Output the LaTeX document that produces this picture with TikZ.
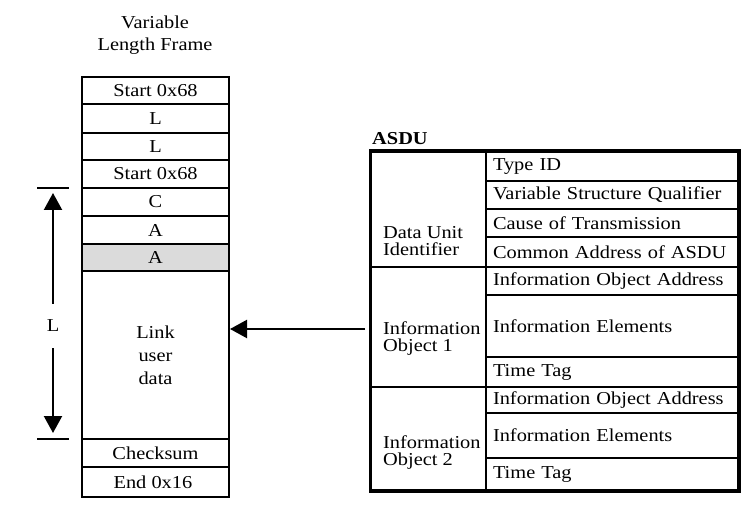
\documentclass[tikz,border=0pt]{standalone}
\usepackage{fontspec}
\setmainfont{Liberation Serif}[FakeStretch=1.12]
\usetikzlibrary{arrows.meta,positioning}
\definecolor{aRow}{gray}{0.86}

\begin{document}
\begin{tikzpicture}[x=1pt,y=-1pt,every node/.style={font=\fontsize{18.2}{17}\selectfont}]

      \useasboundingbox (0,0) rectangle (756,508);

      \tikzset{
        frameRow/.style={draw,line width=2pt,minimum width=147pt,inner sep=0pt,align=center},
        asduCell/.style={draw,line width=2.2pt,inner xsep=7pt,inner ysep=0pt,text width=238pt,align=left},
        asduGroup/.style={draw,line width=2.2pt,minimum width=115pt,inner sep=0pt},
        groupText/.style={anchor=north west,inner sep=0pt,align=left},
        bigArrow/.style={line width=2.2pt,-{Triangle[length=17pt,width=18pt]}}
      }

      \def\frameRows{
        77/104/white/f1/{Start 0x68},
        104/133/white/f2/{L},
        133/160/white/f3/{L},
        160/188/white/f4/{Start 0x68},
        188/216/white/f5/{C},
        216/244/white/f6/{A},
        244/271/aRow/f7/{A},
        271/439/white/f8/{Link\\[6pt]user\\[6pt]data},
        439/467/white/f9/{Checksum},
        467/497/white/f10/{End 0x16}
      }

      \def\asduRows{
        152/181/r1/{Type ID},
        181/209/r2/{Variable Structure Qualifier},
        209/237/r3/{Cause of Transmission},
        237/267/r4/{Common Address of ASDU},
        267/295/r5/{Information Object Address},
        295/357/r6/{Information Elements},
        357/387/r7/{Time Tag},
        387/413/r8/{Information Object Address},
        413/458/r9/{Information Elements},
        458/490/r10/{Time Tag}
      }

      % draw the frame title
      \node[align=center,font=\fontsize{18.2}{22}\selectfont] (frameTitle) at (155,35) {Variable\\Length Frame};

      % draw the frame rows
      \foreach \yTop/\yBot/\fillc/\nm/\txt in \frameRows
        \node[frameRow,fill=\fillc,minimum height={\yBot-\yTop}] (\nm) at (155.5,{(\yTop+\yBot)/2}) {\txt};

      % draw the length arrow
      \coordinate (lTopL) at (37,188);
      \coordinate (lTopR) at (69,188);
      \coordinate (lBotL) at (37,439);
      \coordinate (lBotR) at (69,439);
      \coordinate (lTip) at (53,193);
      \coordinate (lBotTip) at (53,433);
      \draw[line width=2.2pt] (lTopL) -- (lTopR);
      \draw[line width=2.2pt] (lBotL) -- (lBotR);
      \node[minimum height=44pt,inner sep=0pt] (lenL) at (53,326) {L};
      \draw[bigArrow] (lenL) -- (lTip);
      \draw[bigArrow] (lenL) -- (lBotTip);

      % draw the ASDU table
      \node[anchor=base west,inner sep=0pt,font=\fontsize{18.2}{17}\selectfont\bfseries] (asduTitle) at (372,145) {ASDU};

      \foreach \yTop/\yBot/\nm/\txt in \asduRows
        \node[asduCell,minimum height={\yBot-\yTop}] (\nm) at (612,{(\yTop+\yBot)/2}) {\txt};

      \node[asduGroup,minimum height=115pt] (g1) at (428.5,209.5) {};
      \node[asduGroup,minimum height=120pt] (g2) at (428.5,327) {};
      \node[asduGroup,minimum height=103pt] (g3) at (428.5,438.5) {};
      \node[groupText] (gt1) at (383,226) {Data Unit\\Identifier};
      \node[groupText] (gt2) at (383,321) {Information\\Object 1};
      \node[groupText] (gt3) at (383,435) {Information\\Object 2};
      \draw[line width=2.8pt] (g1.north west) rectangle (r10.south east);

      % draw the arrow into the frame
      \coordinate (asduIn) at (365,329);
      \draw[bigArrow] (asduIn) -- (asduIn -| f8.east);

\end{tikzpicture}
\end{document}
